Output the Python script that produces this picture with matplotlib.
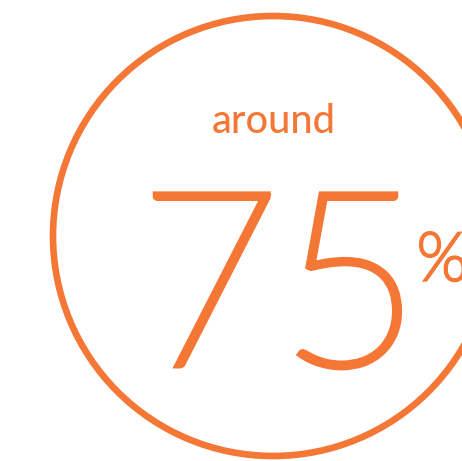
import matplotlib
matplotlib.use("Agg")
import matplotlib.pyplot as plt
from matplotlib.patches import Circle
import matplotlib.patheffects as pe

label_top = "around"
value = "75"
unit = "%"
color = "#F47735"

fig = plt.figure(figsize=(4.62, 4.61), dpi=100)
ax = fig.add_axes([0, 0, 1, 1])
ax.set_xlim(0, 462)
ax.set_ylim(461, 0)
ax.set_aspect("equal")
ax.axis("off")

ax.add_patch(Circle((273, 236), 220, fill=False, edgecolor=color, linewidth=4.8))
ax.text(274, 133, label_top, ha="center", va="baseline", fontsize=28.5,
        color=color, family="Lato", fontweight="medium")
ax.text(280, 365, value, ha="center", va="baseline", fontsize=175,
        color=color, family="Lato", fontweight="light",
        path_effects=[pe.withStroke(linewidth=5, foreground=color,
                                    capstyle="butt", joinstyle="miter")])
ax.text(417, 280, unit, ha="left", va="baseline", fontsize=48,
        color=color, family="Lato", fontweight="light",
        path_effects=[pe.withStroke(linewidth=2.5, foreground=color,
                                    capstyle="butt", joinstyle="miter")])

fig.savefig("out.png", dpi=100, facecolor="white")
